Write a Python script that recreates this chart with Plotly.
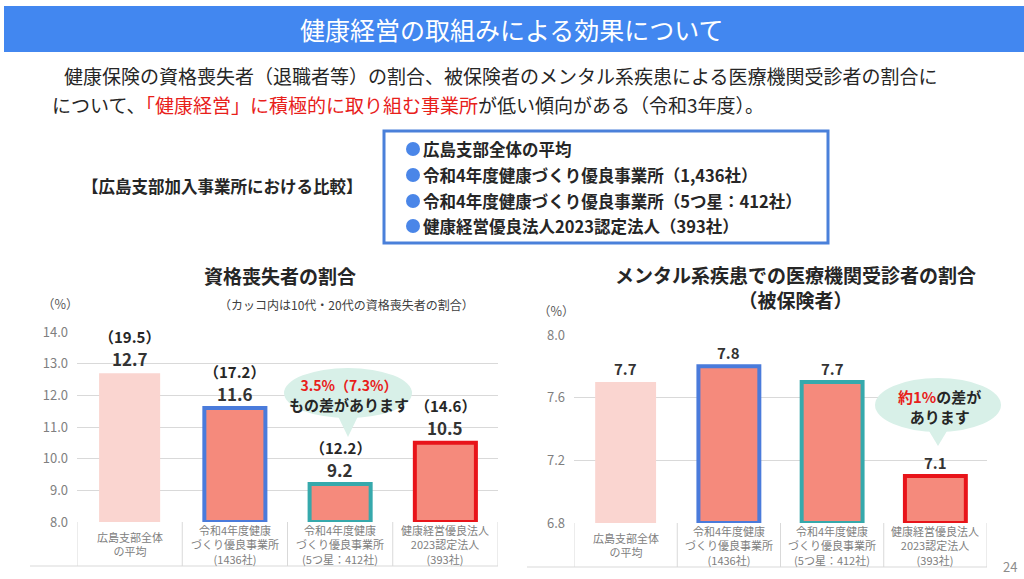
import plotly.graph_objects as go

# ==========================================
# DATA
# ==========================================
CATEGORIES = ["広島支部全体<br>の平均",
              "令和4年度健康<br>づくり優良事業所<br>(1436社)",
              "令和4年度健康<br>づくり優良事業所<br>(5つ星：412社)",
              "健康経営優良法人<br>2023認定法人<br>(393社)"]

LOSS_RATE = [12.7, 11.6, 9.2, 10.5]          # 資格喪失者の割合
LOSS_RATE_YOUNG = [19.5, 17.2, 12.2, 14.6]   # 10代・20代
MENTAL_RATE = [7.7, 7.8, 7.7, 7.1]           # メンタル系疾患

LEFT_TICKS = [8.0, 9.0, 10.0, 11.0, 12.0, 13.0, 14.0]
RIGHT_TICKS = [6.8, 7.2, 7.6, 8.0]

LEGEND_ITEMS = ["広島支部全体の平均",
                "令和4年度健康づくり優良事業所（1,436社）",
                "令和4年度健康づくり優良事業所（5つ星：412社）",
                "健康経営優良法人2023認定法人（393社）"]

# ==========================================
# STYLE
# ==========================================
W, H = 1024, 579
FONT = "Noto Sans CJK JP"
FILL = ["#FAD5D0", "#F58A7C", "#F58A7C", "#F58A7C"]
EDGE = ["rgba(0,0,0,0)", "#4A7BDB", "#36A9AC", "#E8141A"]
EDGE_W = [0, 4, 4, 4]
GRID = "#D9D9D9"
TICK_GRAY = "#7F7F7F"
BUBBLE = "#D8F0E8"
TEXT = "#262626"
RED = "#E8201A"


def px(x):
    return x / W


def py(y):
    return 1 - y / H


shapes = []
annotations = []


def label(text, x, y, size, color=TEXT, xanchor="center", xref="paper", yref="paper", yshift=0):
    # x, y in page pixels when paper-referenced
    if xref == "paper":
        x = px(x)
    if yref == "paper":
        y = py(y)
    annotations.append(dict(text=text, x=x, y=y, xref=xref, yref=yref, xanchor=xanchor,
                            yanchor="middle", yshift=yshift, showarrow=False,
                            font=dict(size=size, color=color)))


fig = go.Figure()

x_pos = list(range(len(CATEGORIES)))

# left chart bars
fig.add_trace(go.Bar(x=x_pos, y=[v - LEFT_TICKS[0] for v in LOSS_RATE], base=LEFT_TICKS[0],
                     width=0.58, marker=dict(color=FILL, line=dict(color=EDGE, width=EDGE_W)),
                     xaxis="x", yaxis="y", hoverinfo="skip"))
# right chart bars
fig.add_trace(go.Bar(x=x_pos, y=[v - RIGHT_TICKS[0] for v in MENTAL_RATE], base=RIGHT_TICKS[0],
                     width=0.59, marker=dict(color=FILL, line=dict(color=EDGE, width=EDGE_W)),
                     xaxis="x2", yaxis="y2", hoverinfo="skip"))

axis_common = dict(showgrid=False, zeroline=False, showline=False, showticklabels=False,
                   range=[-0.5, 3.5], fixedrange=True, automargin=False)
yaxis_common = dict(showgrid=True, gridcolor=GRID, gridwidth=1, zeroline=False, showline=False,
                    ticks="", tickfont=dict(family=FONT, size=13, color=TICK_GRAY), ticklabelstandoff=8,
                    automargin=False, fixedrange=True)

fig.update_layout(
    width=W, height=H,
    margin=dict(l=0, r=0, t=0, b=0, pad=0, autoexpand=False),
    paper_bgcolor="white", plot_bgcolor="white",
    showlegend=False,
    font=dict(family=FONT),
    xaxis=dict(domain=[px(77), px(498)], **axis_common),
    yaxis=dict(domain=[py(522), py(332)], range=[LEFT_TICKS[0], LEFT_TICKS[-1]],
               tickvals=LEFT_TICKS, ticktext=[f"{t:.1f}" for t in LEFT_TICKS], **yaxis_common),
    xaxis2=dict(domain=[px(574), px(987)], anchor="y2", **axis_common),
    yaxis2=dict(domain=[py(523), py(335)], range=[RIGHT_TICKS[0], RIGHT_TICKS[-1]], anchor="x2",
                tickvals=RIGHT_TICKS, ticktext=[f"{t:.1f}" for t in RIGHT_TICKS], **yaxis_common),
)

# header band
shapes.append(dict(type="rect", xref="paper", yref="paper", x0=px(4), x1=1, y0=py(52), y1=py(6),
                   fillcolor="#4287F0", line=dict(width=0), layer="below"))
label("健康経営の取組みによる効果について", 512, 29, 25, color="white")

# intro text
label("健康保険の資格喪失者（退職者等）の割合、被保険者のメンタル系疾患による医療機関受診者の割合に",
      62, 75, 19, xanchor="left")
label(f"について、<span style='color:{RED}'>「健康経営」に積極的に取り組む事業所</span>が低い傾向がある（令和3年度）。",
      50, 104, 19, xanchor="left")

# comparison label + legend box
label("<b>【広島支部加入事業所における比較】</b>", 80, 186, 16.5, xanchor="left")
shapes.append(dict(type="rect", xref="paper", yref="paper", x0=px(384), x1=px(828), y0=py(243), y1=py(131),
                   line=dict(color="#4A80DA", width=3), fillcolor="white", layer="below"))
item_y = [149, 175, 201, 226]
for txt, yy in zip(LEGEND_ITEMS, item_y):
    shapes.append(dict(type="circle", xref="paper", yref="paper", x0=px(406), x1=px(420),
                       y0=py(yy + 7), y1=py(yy - 7), fillcolor="#4A86E8", line=dict(width=0)))
    label(f"<b>{txt}</b>", 421, yy, 16.5, xanchor="left")

# chart titles
label("<b>資格喪失者の割合</b>", 280, 276, 19)
label("（%）", 60, 303, 12.5, color="#595959")
label("（カッコ内は10代・20代の資格喪失者の割合）", 346, 304, 12, color="#404040")
label("<b>メンタル系疾患での医療機関受診者の割合<br>（被保険者）</b>", 795, 287, 19)
label("（%）", 556, 311, 12.5, color="#595959")

# value labels
for i, (v, v2) in enumerate(zip(LOSS_RATE, LOSS_RATE_YOUNG)):
    label(f"<b>{v:.1f}</b>", i, v, 17, color="#333333", xref="x", yref="y", yshift=15)
    label(f"<b>（{v2:.1f}）</b>", i, v, 15, xref="x", yref="y", yshift=37)
for i, v in enumerate(MENTAL_RATE):
    label(f"<b>{v:.1f}</b>", i, v, 15, color="#333333", xref="x2", yref="y2", yshift=14)

# category table under each chart
for xr, y_top, y_bot, x_left, x_right in [("x", 522, 566, 30, 498), ("x2", 523, 567, 527, 987)]:
    for i, cat in enumerate(CATEGORIES):
        label(cat, i, (y_top + y_bot) / 2, 11, color="#808080", xref=xr)
    for b in [-0.5, 0.5, 1.5, 2.5, 3.5]:
        shapes.append(dict(type="line", xref=xr, yref="paper", x0=b, x1=b, y0=py(y_top), y1=py(y_bot),
                           line=dict(color=GRID, width=1)))
    shapes.append(dict(type="line", xref="paper", yref="paper", x0=px(x_left), x1=px(x_right),
                       y0=py(y_bot), y1=py(y_bot), line=dict(color=GRID, width=1)))


# speech bubbles
def bubble(cx, cy, rx, ry, tip_y):
    shapes.append(dict(type="circle", xref="paper", yref="paper", x0=px(cx - rx), x1=px(cx + rx),
                       y0=py(cy + ry), y1=py(cy - ry), fillcolor=BUBBLE, line=dict(width=0)))
    path = (f"M {px(cx - 12)} {py(cy + ry - 6)} L {px(cx + 12)} {py(cy + ry - 6)} "
            f"L {px(cx)} {py(tip_y)} Z")
    shapes.append(dict(type="path", xref="paper", yref="paper", path=path,
                       fillcolor=BUBBLE, line=dict(width=0)))


bubble(348, 393, 64, 25, 437)
label(f"<b><span style='color:{RED};font-size:14px'>3.5%（7.3%）</span><br>もの差があります</b>", 349, 395, 15)

bubble(938, 405, 63, 27, 446)
label(f"<b><span style='color:{RED}'>約1%</span>の差が<br>あります</b>", 939, 406, 15)

# page number
label("24", 1010, 566, 13, color="#8C8C8C")

fig.update_layout(shapes=shapes, annotations=annotations)
fig.write_html("out.html", config={"displayModeBar": False},
               post_script="document.body.style.margin='0';")
